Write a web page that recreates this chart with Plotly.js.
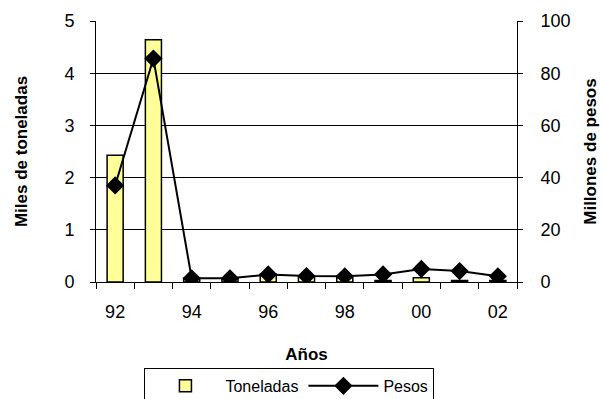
<!DOCTYPE html>
<html><head><meta charset="utf-8">
<script src="https://cdn.plot.ly/plotly-3.0.1.min.js"></script>
<style>body{margin:0;background:#fff}#c{width:603px;height:399px}</style>
</head><body><div id="c"></div>
<script>
const years = ["92","93","94","95","96","97","98","99","00","01","02"];
const toneladas = [2.43, 4.64, 0.07, 0.06, 0.15, 0.12, 0.08, 0.03, 0.08, 0.03, 0.03];
const pesos = [37, 85.6, 1.4, 1.4, 2.9, 2.3, 2.2, 2.9, 5.0, 4.2, 2.2];
const labelYears = ["92","94","96","98","00","02"];
const boundaries = [-0.5,0.5,1.5,2.5,3.5,4.5,5.5,6.5,7.5,8.5,9.5,10.5];

const font = {family: "Liberation Sans, Arial, sans-serif", color: "#000"};
const traces = [
  {type: "bar", name: "Toneladas", x: years, y: toneladas, width: 0.42,
   marker: {color: "#FFFF99", line: {color: "#000", width: 1.5}}, xaxis: "x", yaxis: "y"},
  {type: "scatter", mode: "lines+markers", name: "Pesos", x: years, y: pesos,
   line: {color: "#000", width: 2}, marker: {symbol: "diamond", size: 14, color: "#000"},
   xaxis: "x", yaxis: "y2"},
  {type: "scatter", x: [-0.5, 10.5], y: [0, 0], mode: "none", showlegend: false,
   hoverinfo: "skip", xaxis: "x2", yaxis: "y"}
];
const layout = {
  width: 603, height: 399,
  margin: {l: 96, r: 86, t: 21, b: 117},
  paper_bgcolor: "#fff", plot_bgcolor: "#fff",
  font: Object.assign({size: 16}, font),
  showlegend: true,
  bargap: 0,
  xaxis: {type: "category", categoryorder: "array", categoryarray: years,
    range: [-0.5, 10.5], tickvals: labelYears, ticktext: labelYears,
    ticks: "", showgrid: false, zeroline: false, showline: true, linecolor: "#000", linewidth: 1,
    tickfont: Object.assign({size: 18}, font), ticklabelstandoff: 13,
    title: {text: "Años", font: Object.assign({size: 17, weight: "bold"}, font), standoff: 27}},
  xaxis2: {overlaying: "x", range: [-0.5, 10.5], tickvals: boundaries, ticks: "outside",
    ticklen: 6, tickcolor: "#000", showticklabels: false, showgrid: false, zeroline: false,
    showline: false, side: "bottom"},
  yaxis: {range: [0, 5], dtick: 1, ticks: "outside", ticklen: 5, tickcolor: "#000",
    showgrid: true, gridcolor: "#000", gridwidth: 1, zeroline: false,
    showline: true, linecolor: "#000", linewidth: 1,
    tickfont: Object.assign({size: 18}, font), ticklabelstandoff: 12,
    title: {text: "Miles de toneladas", font: Object.assign({size: 17, weight: "bold"}, font), standoff: 32}},
  yaxis2: {overlaying: "y", side: "right", range: [0, 100], dtick: 20, ticks: "outside",
    ticklen: 5, tickcolor: "#000", showgrid: false, zeroline: false,
    showline: true, linecolor: "#000", linewidth: 1,
    tickfont: Object.assign({size: 18}, font), ticklabelstandoff: 14,
    title: {text: "Millones de pesos", font: Object.assign({size: 17, weight: "bold"}, font), standoff: 14}},
  legend: {orientation: "h", xref: "container", yref: "container", x: 0.48, xanchor: "center",
    y: 0.078, yanchor: "top",
    bordercolor: "#000", borderwidth: 1, bgcolor: "#fff",
    font: Object.assign({size: 16}, font), itemwidth: 70, tracegroupgap: 0}
};
Plotly.newPlot("c", traces, layout, {displayModeBar: false, staticPlot: true});
</script></body></html>
